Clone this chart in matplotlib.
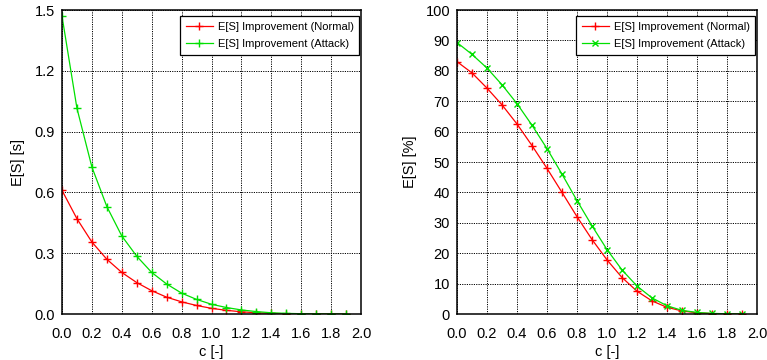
import matplotlib
matplotlib.use("Agg")
import matplotlib.pyplot as plt
import numpy as np

plt.rcParams['font.family'] = ['Liberation Sans', 'DejaVu Sans']

c = [0.0, 0.1, 0.2, 0.3, 0.4, 0.5, 0.6, 0.7, 0.8, 0.9, 1.0,
     1.1, 1.2, 1.3, 1.4, 1.5, 1.6, 1.7, 1.8, 1.9]

sec_normal = [0.61, 0.47, 0.355, 0.27, 0.205, 0.155, 0.115, 0.083, 0.06, 0.042, 0.028,
              0.018, 0.011, 0.006, 0.003, 0.0015, 0.0007, 0.0003, 0.0001, 0.0]
sec_attack = [1.47, 1.015, 0.725, 0.53, 0.385, 0.285, 0.205, 0.148, 0.103, 0.072, 0.048,
              0.032, 0.02, 0.012, 0.006, 0.003, 0.0015, 0.0007, 0.0003, 0.0001]

pct_normal = [83.0, 79.3, 74.3, 68.8, 62.5, 55.4, 47.9, 40.0, 32.0, 24.5, 17.8,
              12.0, 7.5, 4.3, 2.2, 1.0, 0.4, 0.15, 0.05, 0.02]
pct_attack = [89.3, 85.4, 80.9, 75.4, 69.2, 62.1, 54.4, 46.0, 37.3, 29.0, 21.2,
              14.5, 9.2, 5.3, 2.7, 1.2, 0.5, 0.2, 0.07, 0.02]

label_normal = "E[S] Improvement (Normal)"
label_attack = "E[S] Improvement (Attack)"
red = "#ff0000"
green = "#00e000"

fig = plt.figure(figsize=(7.67, 3.6), dpi=100)
W, H = 767, 360
ax1 = fig.add_axes([62 / W, (H - 314) / H, 299 / W, 304 / H])
ax2 = fig.add_axes([457 / W, (H - 314) / H, 300 / W, 304 / H])

FS = 10.5

def style(ax, yticks, yfmt, ylabel, ylabelpad):
    ax.set_xlim(0, 2.0)
    ax.set_xticks(np.arange(0, 2.01, 0.2))
    ax.set_xticklabels([f"{v:.1f}" for v in np.arange(0, 2.01, 0.2)])
    ax.set_ylim(yticks[0], yticks[-1])
    ax.set_yticks(yticks)
    ax.set_yticklabels([yfmt.format(v) for v in yticks])
    ax.grid(True, color="black", linestyle=(0, (1.2, 1.2)), linewidth=0.7)
    ax.tick_params(length=0, labelsize=FS)
    ax.tick_params(axis="x", pad=9)
    ax.tick_params(axis="y", pad=5)
    for s in ax.spines.values():
        s.set_linewidth(1.1)
    ax.set_xlabel("c [-]", fontsize=FS, labelpad=3)
    ax.set_ylabel(ylabel, fontsize=FS, labelpad=ylabelpad)

ax1.plot(c, sec_normal, color=red, marker="+", markersize=6, linewidth=0.9, label=label_normal)
ax1.plot(c, sec_attack, color=green, marker="+", markersize=6, linewidth=0.9, label=label_attack)
style(ax1, [0.0, 0.3, 0.6, 0.9, 1.2, 1.5], "{:.1f}", "E[S] [s]", 7)

ax2.plot(c, pct_normal, color=red, marker="+", markersize=6, linewidth=0.9, label=label_normal)
ax2.plot(c, pct_attack, color=green, marker="x", markersize=4, linewidth=0.9, label=label_attack)
style(ax2, list(range(0, 101, 10)), "{:d}", "E[S] [%]", 6)

for ax in (ax1, ax2):
    leg = ax.legend(loc="upper right", fontsize=8, frameon=True, fancybox=False,
                    borderaxespad=0.15, handlelength=2.5, borderpad=0.5,
                    labelspacing=0.65, handletextpad=0.4,
                    bbox_to_anchor=(1.0, 0.985))
    leg.get_frame().set_edgecolor("black")
    leg.get_frame().set_linewidth(0.9)
    leg.get_frame().set_alpha(1)

fig.savefig("out.png", dpi=100)
